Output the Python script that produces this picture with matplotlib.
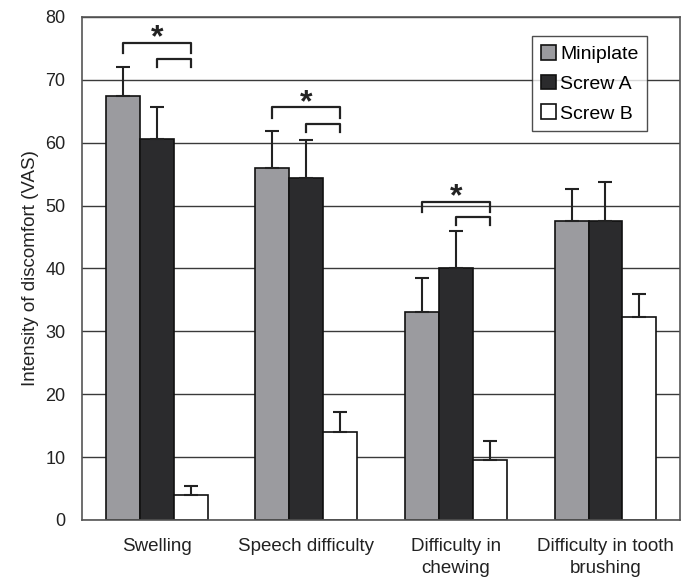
import numpy as np
import matplotlib.pyplot as plt

categories = ["Swelling", "Speech difficulty", "Difficulty in\nchewing", "Difficulty in tooth\nbrushing"]
series = ["Miniplate", "Screw A", "Screw B"]
miniplate = [67.4, 56.0, 33.1, 47.5]
screw_a = [60.5, 54.3, 40.0, 47.5]
screw_b = [4.0, 14.0, 9.6, 32.2]
miniplate_err = [4.6, 5.8, 5.4, 5.2]
screw_a_err = [5.1, 6.1, 5.9, 6.3]
screw_b_err = [1.4, 3.1, 3.0, 3.7]

# significance brackets per category: (outer height, inner height); None = no bracket
bracket_outer = [75.9, 65.6, 50.6, None]
bracket_inner = [73.3, 62.9, 48.1, None]

colors = ["#9b9b9f", "#2b2b2d", "#ffffff"]

plt.rcParams["font.family"] = ["Liberation Sans", "DejaVu Sans"]

fig = plt.figure(figsize=(6.83, 5.81), dpi=100)
ax = fig.add_axes([0.120, 0.105, 0.876, 0.866])

x = np.arange(len(categories))
w = 0.227
vals = [miniplate, screw_a, screw_b]
errs = [miniplate_err, screw_a_err, screw_b_err]
for i, (v, e, c, name) in enumerate(zip(vals, errs, colors, series)):
    pos = x + (i - 1) * w
    ax.bar(pos, v, w, color=c, edgecolor="#111111", linewidth=1.2, label=name, zorder=2)
    ax.errorbar(pos, v, yerr=[np.zeros(len(v)), e], fmt="none", ecolor="#222222",
                elinewidth=1.5, capsize=5, capthick=1.5, zorder=3)

# significance brackets
for k in range(len(categories)):
    if bracket_outer[k] is None:
        continue
    xa, xb, xc = x[k] - w, x[k], x[k] + w
    ho, hi = bracket_outer[k], bracket_inner[k]
    ax.plot([xa, xa, xc, xc], [ho - 1.7, ho, ho, ho - 1.7], color="#222222", lw=1.6, zorder=3)
    ax.plot([xb, xb, xc, xc], [hi - 1.2, hi, hi, hi - 1.2], color="#222222", lw=1.6, zorder=3)
    ax.text(x[k], ho + 0.7, "*", ha="center", va="center", fontsize=23,
            fontweight="bold", color="#222222")

ax.set_xlim(-0.5, len(categories) - 0.5)
ax.set_ylim(0, 80)
ax.set_yticks(np.arange(0, 81, 10))
ax.yaxis.grid(True, color="#3a3a3a", linewidth=1.0, zorder=0)
ax.set_axisbelow(True)
ax.set_xticks(x)
ax.set_xticklabels(categories, fontsize=13.5, color="#222222", linespacing=1.35)
ax.tick_params(axis="y", labelsize=13, colors="#222222", length=0, pad=12)
ax.tick_params(axis="x", length=0, pad=13)
for s in ax.spines.values():
    s.set_color("#555555")
    s.set_linewidth(1.2)
ax.set_ylabel("Intensity of discomfort (VAS)", fontsize=13.5, color="#222222", labelpad=4)

lg = ax.legend(loc="upper right", bbox_to_anchor=(0.945, 0.962), frameon=True, fancybox=False,
               edgecolor="#222222", fontsize=14, handlelength=0.8, handleheight=0.8,
               handletextpad=0.2, borderpad=0.45, labelspacing=0.6, borderaxespad=0)
lg.get_frame().set_linewidth(1.0)

fig.savefig("out.png", dpi=100)
